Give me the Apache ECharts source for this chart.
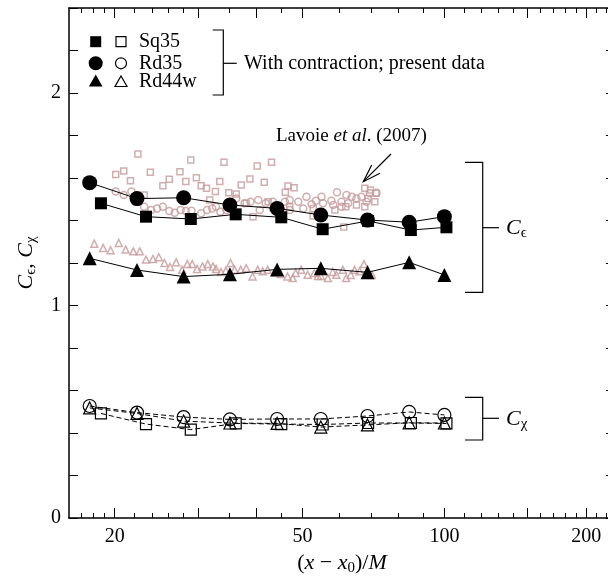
<!DOCTYPE html>
<html>
<head>
<meta charset="utf-8">
<script src="https://cdn.jsdelivr.net/npm/echarts@6/dist/echarts.min.js"></script>
<style>
  html, body { margin: 0; padding: 0; background: #fff; }
  #chart { width: 608px; height: 576px; }
</style>
</head>
<body>
<div id="chart"></div>
<script>
// present data (x - x0)/M positions
const sq35X = [18.7, 23.3, 29.0, 36.1, 45.1, 55.2, 68.9, 84.9, 101];
const rd35X = [17.7, 22.3, 28.0, 35.1, 44.2, 54.7, 68.7, 84.2, 100];
const rd44wX = [17.7, 22.3, 28.0, 35.1, 44.2, 54.7, 68.7, 84.2, 100];

// C_epsilon (filled, solid lines)
const sq35Ceps = [1.481, 1.418, 1.407, 1.429, 1.415, 1.359, 1.398, 1.355, 1.368];
const rd35Ceps = [1.578, 1.503, 1.507, 1.473, 1.457, 1.426, 1.402, 1.392, 1.418];
const rd44wCeps = [1.222, 1.167, 1.136, 1.147, 1.170, 1.175, 1.156, 1.203, 1.144];

// C_chi (open, dashed lines)
const sq35Cchi = [0.492, 0.442, 0.416, 0.445, 0.442, 0.440, 0.447, 0.447, 0.445];
const rd35Cchi = [0.527, 0.496, 0.475, 0.464, 0.466, 0.466, 0.480, 0.499, 0.485];
const rd44wCchi = [0.518, 0.492, 0.456, 0.447, 0.445, 0.428, 0.438, 0.448, 0.447];

// Lavoie et al. (2007)
const lavSqX = [20.1, 20.9, 21.6, 22.4, 23.1, 23.8, 25.3, 26.1, 27.5, 28.3, 29.0, 29.8, 30.5, 31.3, 31.8, 32.7, 33.4, 34.1, 34.9, 36.2, 37.1, 38.0, 38.7, 39.3, 40.1, 41.5, 42.3, 43.0, 46.0, 46.6, 47.0, 48.0, 52.7, 52.7, 58.6, 61.2, 61.8, 65.1, 67.8, 67.8, 68.9, 69.7, 71.2, 71.6];
const lavSqY = [1.617, 1.633, 1.587, 1.713, 1.520, 1.627, 1.564, 1.594, 1.630, 1.583, 1.685, 1.601, 1.564, 1.552, 1.496, 1.536, 1.583, 1.674, 1.531, 1.525, 1.567, 1.481, 1.595, 1.418, 1.656, 1.580, 1.488, 1.674, 1.533, 1.562, 1.465, 1.554, 1.421, 1.457, 1.449, 1.370, 1.465, 1.473, 1.552, 1.465, 1.504, 1.544, 1.488, 1.528];
const lavCirX = [20.1, 20.9, 21.7, 23.1, 23.9, 24.6, 25.3, 26.1, 26.8, 27.6, 28.3, 29.1, 30.5, 31.4, 32.2, 32.8, 33.5, 34.5, 36.2, 37.7, 38.8, 40.3, 40.6, 41.8, 43.3, 43.3, 45.9, 47.0, 47.0, 49.0, 50.2, 51.0, 52.3, 53.4, 54.9, 55.3, 57.6, 58.1, 59.2, 60.5, 60.5, 62.0, 62.5, 63.6, 65.1, 66.7, 68.4, 69.5, 71.8];
const lavCirY = [1.536, 1.520, 1.536, 1.465, 1.449, 1.457, 1.465, 1.445, 1.437, 1.449, 1.445, 1.446, 1.434, 1.449, 1.457, 1.465, 1.441, 1.449, 1.504, 1.481, 1.488, 1.496, 1.449, 1.481, 1.457, 1.488, 1.488, 1.449, 1.496, 1.488, 1.457, 1.512, 1.476, 1.493, 1.512, 1.481, 1.493, 1.473, 1.533, 1.488, 1.465, 1.520, 1.481, 1.512, 1.504, 1.512, 1.488, 1.528, 1.531];
const lavTriX = [18.1, 18.9, 19.6, 20.4, 21.1, 21.9, 22.6, 23.3, 24.1, 24.8, 25.5, 26.2, 27.0, 27.8, 28.5, 29.2, 29.9, 30.7, 31.5, 32.3, 32.8, 33.6, 34.4, 35.2, 35.9, 37.0, 38.0, 39.2, 40.2, 41.2, 42.2, 43.7, 45.0, 46.5, 47.7, 48.4, 49.7, 51.3, 53.0, 53.9, 54.7, 56.6, 58.0, 59.0, 60.9, 61.9, 63.3, 64.5, 66.1, 67.5, 68.8, 70.2];
const lavTriY = [1.291, 1.271, 1.260, 1.294, 1.263, 1.255, 1.255, 1.216, 1.219, 1.227, 1.200, 1.181, 1.203, 1.168, 1.195, 1.195, 1.172, 1.184, 1.195, 1.184, 1.172, 1.158, 1.164, 1.200, 1.168, 1.168, 1.176, 1.137, 1.168, 1.161, 1.168, 1.158, 1.148, 1.137, 1.129, 1.153, 1.168, 1.145, 1.153, 1.139, 1.139, 1.129, 1.158, 1.145, 1.168, 1.129, 1.144, 1.168, 1.161, 1.195, 1.168, 1.144];

// axis ticks
const majorX = [20, 30, 40, 50, 100, 150, 200];
const minorX = [17, 18, 19, 22, 24, 26, 28, 35, 45, 60, 70, 80, 90, 110, 120, 130, 140, 160, 170, 180, 190, 210, 220];
const xLabels = [20, 50, 100, 200];

const FONT = 'Liberation Serif';
const LAV = '#c49a9a';

const zip = (xs, ys) => xs.map((x, i) => [x, ys[i]]);

function xAxis(pos, ticks, len, labels, line) {
  return {
    type: 'log', logBase: 10, gridIndex: 0, position: pos,
    min: 16, max: 230,
    axisLine: { show: line, lineStyle: { color: '#000', width: 1.5 } },
    axisTick: { show: true, inside: true, length: len, customValues: ticks, lineStyle: { color: '#000', width: 1 } },
    axisLabel: labels ? {
      show: true, customValues: labels, formatter: v => String(Math.round(v)),
      color: '#000', fontFamily: FONT, fontSize: 20, margin: 9
    } : { show: false },
    splitLine: { show: false }, minorTick: { show: false }
  };
}

function yAxis(pos, labels) {
  return {
    type: 'value', position: pos, min: 0, max: 2.4, interval: 0.2,
    axisLine: { show: true, lineStyle: { color: '#000', width: 1.5 } },
    axisTick: { show: true, inside: true, length: 9, lineStyle: { color: '#000', width: 1 } },
    axisLabel: labels ? {
      show: true, color: '#000', fontFamily: FONT, fontSize: 20, margin: 8,
      formatter: v => (Math.abs(v - Math.round(v)) < 1e-6 ? String(Math.round(v)) : '')
    } : { show: false },
    splitLine: { show: false }
  };
}

const mathRich = {
  n: { fontFamily: FONT, fontSize: 22, color: '#000', lineHeight: 26 },
  i: { fontFamily: FONT, fontSize: 22, fontStyle: 'italic', color: '#000', lineHeight: 26 },
  s: { fontFamily: FONT, fontSize: 15, color: '#000', lineHeight: 15, verticalAlign: 'bottom' }
};

function lineSeries(name, xs, ys, symbol, size, filled, dashed) {
  return {
    name, type: 'line', data: zip(xs, ys), symbol, symbolSize: size,
    xAxisIndex: 0, yAxisIndex: 0, z: 5, silent: true,
    lineStyle: { color: '#000', width: 1, type: dashed ? [5, 3] : 'solid' },
    itemStyle: filled ? { color: '#000' } : { color: 'rgba(0,0,0,0)', borderColor: '#000', borderWidth: 1.2 },
    emphasis: { disabled: true }
  };
}

function lavSeries(xs, ys, symbol, size) {
  return {
    type: 'scatter', data: zip(xs, ys), symbol, symbolSize: size, z: 2, silent: true,
    itemStyle: { color: 'rgba(0,0,0,0)', borderColor: LAV, borderWidth: 1.5 },
    emphasis: { disabled: true }
  };
}

const black = { stroke: '#000', lineWidth: 1.2, fill: null };
const txt = (x, y, text, size) => ({
  type: 'text', x, y,
  style: { text, fontFamily: FONT, fontSize: size || 20, fill: '#000', verticalAlign: 'middle' }
});

const option = {
  animation: false,
  grid: { left: 69, top: 8, right: -7, bottom: 58, containLabel: false, outerBoundsMode: 'none' },
  xAxis: [
    Object.assign(xAxis('bottom', majorX, 10, xLabels, true), {
      name: '{n|(}{i|x}{n| − }{i|x}{s|0}{n|)/}{i|M}', nameLocation: 'middle', nameGap: 23,
      nameTextStyle: { rich: mathRich }
    }),
    xAxis('bottom', minorX, 5, null, false),
    xAxis('top', majorX, 10, null, true),
    xAxis('top', minorX, 5, null, false)
  ],
  yAxis: [
    Object.assign(yAxis('left', true), {
      name: '{i|C}{s|ϵ}{n|, }{i|C}{s|χ}', nameLocation: 'middle', nameGap: 30, nameRotate: 90,
      nameTextStyle: { rich: mathRich }
    }),
    yAxis('right', false)
  ],
  series: [
    lavSeries(lavSqX, lavSqY, 'rect', 6),
    lavSeries(lavCirX, lavCirY, 'circle', 7),
    lavSeries(lavTriX, lavTriY, 'triangle', 7),
    lineSeries('Sq35', sq35X, sq35Ceps, 'rect', 12, true, false),
    lineSeries('Rd35', rd35X, rd35Ceps, 'circle', 15, true, false),
    lineSeries('Rd44w', rd44wX, rd44wCeps, 'triangle', 14, true, false),
    lineSeries('Sq35', sq35X, sq35Cchi, 'rect', 11, false, true),
    lineSeries('Rd35', rd35X, rd35Cchi, 'circle', 13, false, true),
    lineSeries('Rd44w', rd44wX, rd44wCchi, 'triangle', 12, false, true)
  ],
  graphic: [
    // legend
    { type: 'rect', shape: { x: 90.2, y: 36.2, width: 11, height: 11 }, style: { fill: '#000' } },
    { type: 'rect', shape: { x: 116, y: 36.7, width: 10, height: 10 }, style: black },
    { type: 'circle', shape: { cx: 95.7, cy: 63.3, r: 7 }, style: { fill: '#000' } },
    { type: 'circle', shape: { cx: 121, cy: 63.3, r: 5.5 }, style: black },
    { type: 'polygon', shape: { points: [[95.7, 74.5], [102.5, 86.5], [88.9, 86.5]] }, style: { fill: '#000' } },
    { type: 'polygon', shape: { points: [[121, 76], [127, 86.5], [115, 86.5]] }, style: black },
    txt(139, 42, 'Sq35'),
    txt(139, 63.5, 'Rd35'),
    txt(139, 82, 'Rd44w'),
    { type: 'polyline', shape: { points: [[212.7, 30], [223.3, 30], [223.3, 95], [212.7, 95]] }, style: black },
    { type: 'line', shape: { x1: 223.3, y1: 63.3, x2: 236.7, y2: 63.3 }, style: black },
    txt(244, 63.5, 'With contraction; present data'),
    // Lavoie label + arrow
    {
      type: 'text', x: 276, y: 136,
      style: {
        text: '{n|Lavoie }{i|et al}{n|. (2007)}', verticalAlign: 'middle',
        rich: {
          n: { fontFamily: FONT, fontSize: 19, fill: '#000' },
          i: { fontFamily: FONT, fontSize: 19, fontStyle: 'italic', fill: '#000' }
        }
      }
    },
    { type: 'line', shape: { x1: 391, y1: 154, x2: 363.3, y2: 181.7 }, style: black },
    { type: 'polyline', shape: { points: [[371.7, 165], [363.3, 181.7], [380, 173.3]] }, style: black },
    // right brackets
    { type: 'polyline', shape: { points: [[465, 162.3], [482.7, 162.3], [482.7, 292.3], [465, 292.3]] }, style: black },
    { type: 'line', shape: { x1: 482.7, y1: 227.7, x2: 499, y2: 227.7 }, style: black },
    {
      type: 'text', x: 506, y: 228,
      style: { text: '{i|C}{s|ϵ}', verticalAlign: 'middle', rich: mathRich }
    },
    { type: 'polyline', shape: { points: [[465, 397.3], [482.7, 397.3], [482.7, 440], [465, 440]] }, style: black },
    { type: 'line', shape: { x1: 482.7, y1: 418.3, x2: 499, y2: 418.3 }, style: black },
    {
      type: 'text', x: 506, y: 419,
      style: { text: '{i|C}{s|χ}', verticalAlign: 'middle', rich: mathRich }
    }
  ]
};

const myChart = echarts.init(document.getElementById('chart'), null, { renderer: 'canvas' });
myChart.setOption(option);
</script>
</body>
</html>
